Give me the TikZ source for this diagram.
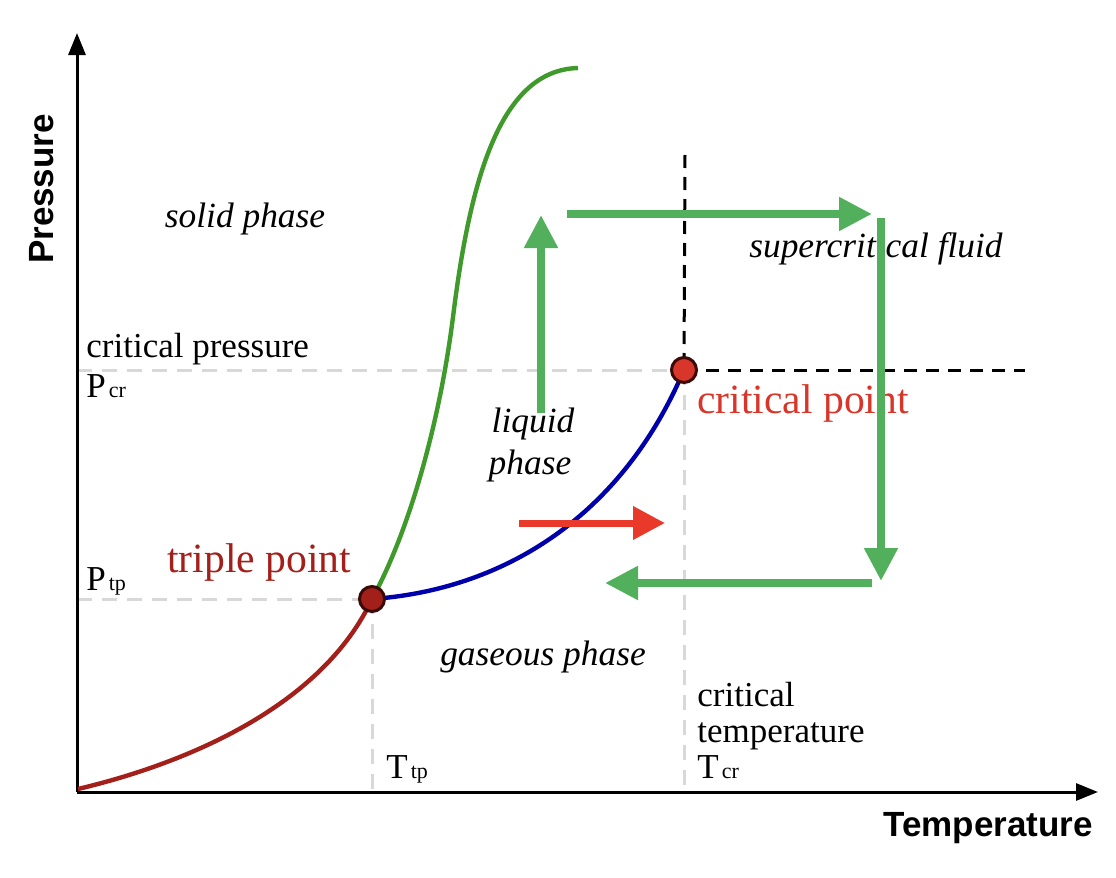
\documentclass[tikz,border=0pt]{standalone}
\usepackage{fontspec}
\setmainfont{Liberation Serif}
\newfontfamily\axisfont{Liberation Sans}
\usetikzlibrary{arrows.meta}
\definecolor{tpred}{HTML}{A31F1A}
\definecolor{tpdark}{HTML}{3A0A08}
\definecolor{cpred}{HTML}{D8362A}
\definecolor{meltgreen}{HTML}{3F9A2B}
\definecolor{vapblue}{HTML}{0000AA}
\definecolor{arrgreen}{HTML}{52B05C}
\definecolor{arrred}{HTML}{E8392A}
\definecolor{guidegray}{HTML}{D8D8D8}
\tikzset{
  axisline/.style={line width=1.5pt, -{Triangle[length=11pt,width=8.5pt]}},
  axistitle/.style={font=\axisfont\bfseries\fontsize{17.5}{20}\selectfont, inner sep=0pt},
  guide/.style={guidegray, line width=1.5pt, dash pattern=on 7.5pt off 5pt},
  blackdash/.style={black, line width=1.5pt, dash pattern=on 6.5pt off 4.5pt},
  curve/.style={line width=2.2pt},
  garrow/.style={arrgreen, line width=4pt, -{Triangle[length=16.5pt,width=16pt]}},
  rarrow/.style={arrred, line width=3.5pt, -{Triangle[length=16pt,width=16pt]}},
  lbl/.style={font=\fontsize{17.5}{20}\selectfont, inner sep=0pt, anchor=base west},
  phase/.style={font=\itshape\fontsize{17.7}{20}\selectfont, inner sep=0pt},
  pointlbl/.style={font=\fontsize{20.8}{24}\selectfont, inner sep=0pt, anchor=base west},
  ptdot/.style={circle, draw=tpdark, line width=1.5pt, minimum size=12.5pt, inner sep=0pt},
}
\newcommand{\subsm}[1]{\kern1.5pt{\fontsize{11}{12}\selectfont #1}}
\begin{document}
\begin{tikzpicture}[x=0.5pt,y=-0.5pt]
\useasboundingbox (0,0) rectangle (1116,878);
% key coordinates
\coordinate (O) at (77,792);
\coordinate (ytop) at (77,33);
\coordinate (xend) at (1098,792);
\coordinate (tp) at (372,599);
\coordinate (cp) at (684,370);
\coordinate (meltmid) at (453,317);
\coordinate (meltend) at (578,68);
\coordinate (sublstart) at (78,789);
\coordinate (bdtop) at (685,155);
\coordinate (bdright) at (1025,370);
% guides
\draw[guide] (O |- cp) -- (cp);
\draw[guide] (O |- tp) -- (tp);
\draw[guide] (tp) -- (tp |- O);
\draw[guide] (cp) -- (cp |- O);
\draw[blackdash] (bdtop) -- (cp);
\draw[blackdash] (cp) -- (bdright);
% axes
\draw[axisline] (O) -- (ytop);
\draw[axisline] (O) -- (xend);
\node[axistitle, rotate=90] (plabel) at (42,189) {Pressure};
\node[axistitle] (tlabel) at (988,828) {Temperature};
% phase curves
\draw[curve, tpred] (sublstart) .. controls (200,760) and (325,700) .. (tp);
\draw[curve, meltgreen] (tp) .. controls (410,530) and (440,420) .. (meltmid)
   .. controls (470,180) and (500,70) .. (meltend);
\draw[curve, vapblue] (tp) .. controls (500,590) and (620,520) .. (cp);
% text labels
\node[lbl] (critp) at (86,357) {critical pressure};
\node[lbl] (pcr) at (86,397) {P\subsm{cr}};
\node[lbl] (ptp) at (86,590) {P\subsm{tp}};
\node[pointlbl, text=tpred] (tplbl) at (167,572) {triple point};
\node[pointlbl, text=cpred] (cplbl) at (697,413) {critical point};
\node[lbl] (ttp) at (386,778) {T\subsm{tp}};
\node[lbl] (ct1) at (697,706) {critical};
\node[lbl] (ct2) at (697,742) {temperature};
\node[lbl] (tcr) at (697,778) {T\subsm{cr}};
\node[phase] (solid) at (245,219) {solid phase};
\node[phase] (scf) at (876,249) {supercritical fluid};
\node[phase] (liq1) at (533,424) {liquid};
\node[phase] (liq2) at (530,466) {phase};
\node[phase] (gas) at (543,657) {gaseous phase};
% process arrows
\coordinate (a1s) at (541,413);
\coordinate (a1e) at (541,215);
\coordinate (a2s) at (567,214);
\coordinate (a2e) at (872,214);
\coordinate (a3s) at (881,218);
\coordinate (a3e) at (881,581);
\coordinate (a4s) at (872,583);
\coordinate (a4e) at (605,583);
\coordinate (a5s) at (519,523);
\coordinate (a5e) at (665,523);
\draw[garrow] (a1s) -- (a1e);
\draw[garrow] (a2s) -- (a2e);
\draw[garrow] (a3s) -- (a3e);
\draw[garrow] (a4s) -- (a4e);
\draw[rarrow] (a5s) -- (a5e);
% points
\node[ptdot, fill=tpred] (tpdot) at (tp) {};
\node[ptdot, fill=cpred] (cpdot) at (cp) {};
\end{tikzpicture}
\end{document}
